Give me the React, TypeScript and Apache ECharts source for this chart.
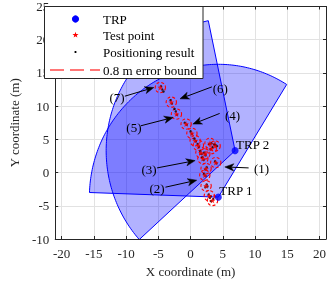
import React, { useEffect, useRef } from 'react';
import * as echarts from 'echarts';

// ---- data ----
const trpNames = ['TRP 1', 'TRP 2'];
const trpX = [4.3, 6.9];
const trpY = [-3.7, 3.3];
const sectorRadius = [20, 20];
const sectorStartDeg = [58, 102];
const sectorEndDeg = [178, 222];

const testX = [3.4, 2.9, 2.4, 2.2, 2.4, 3.9, 1.9, 1.6, 2.2, 3.2, 3.8, 3.0, 1.2, 0.7, 0.2, -0.7, -2.2, -3.0, -4.7];
const testY = [-4.2, -3.5, -2.0, -0.4, 0.6, 1.5, 2.1, 3.0, 2.8, 3.6, 4.0, 4.4, 4.1, 4.8, 5.9, 7.3, 8.8, 10.6, 12.8];

const posX = [3.5, 3.2, 3.0, 2.8, 3.1, 2.5, 2.3, 2.6, 2.1, 2.3, 2.5, 2.3, 3.8, 4.0, 1.8, 2.0, 1.5, 1.7, 2.3, 2.1, 3.1, 3.4, 3.7, 3.9, 4.1, 2.9, 3.2, 1.1, 1.3, 0.6, 0.8, 0.0, 0.2, -0.9, -0.6, -2.5, -2.3, -2.1, -3.1, -2.9, -4.6, -4.4, -4.2];
const posY = [-4.0, -4.3, -3.8, -3.3, -3.6, -1.8, -2.2, -2.1, -0.2, -0.5, 0.8, 0.5, 1.7, 1.4, 2.3, 1.9, 3.2, 2.8, 2.6, 3.0, 3.5, 3.8, 4.2, 4.1, 4.0, 4.3, 4.4, 4.3, 3.9, 5.1, 4.7, 6.2, 5.8, 7.5, 7.2, 9.6, 9.2, 8.7, 10.9, 10.4, 13.0, 12.5, 12.2];

const errorBound = 0.8;

const arrowLabels = ['(1)', '(2)', '(3)', '(4)', '(5)', '(6)', '(7)'];
const arrowTailX = [9.0, -3.9, -5.2, 4.5, -7.7, 3.3, -10.2];
const arrowTailY = [0.7, -2.2, 0.7, 8.9, 7.05, 12.9, 11.5];
const arrowTipX = [5.3, 0.95, 0.7, 0.35, -2.7, -1.65, -5.7];
const arrowTipY = [0.85, -1.15, 1.8, 7.3, 8.3, 11.1, 12.8];
const labelX = [11.0, -5.2, -6.45, 6.5, -8.8, 4.6, -11.4];
const labelY = [0.55, -2.4, 0.45, 8.6, 6.8, 12.6, 11.3];

const legendNames = ['TRP', 'Test point', 'Positioning result', '0.8 m error bound'];
const xTitle = 'X coordinate (m)';
const yTitle = 'Y coordinate (m)';

const FONT = 'Liberation Serif';
const AX = '#262626';

function starPoints(cx: number, cy: number, R: number, r: number) {
  const pts: number[][] = [];
  for (let i = 0; i < 10; i++) {
    const a = -Math.PI / 2 + (i * Math.PI) / 5;
    const rr = i % 2 === 0 ? R : r;
    pts.push([cx + rr * Math.cos(a), cy + rr * Math.sin(a)]);
  }
  return pts;
}

const STAR = 'path://M0,-10 L2.35,-3.24 L9.51,-3.09 L3.8,1.24 L5.88,8.09 L0,4 L-5.88,8.09 L-3.8,1.24 L-9.51,-3.09 L-2.35,-3.24 Z';

export default function App() {
  const ref = useRef<HTMLDivElement>(null);
  useEffect(() => {
    document.body.style.margin = '0';
    const chart = echarts.init(ref.current as HTMLDivElement, null, { renderer: 'svg' });

    const sectorData = trpX.map((x, i) => [x, trpY[i], sectorRadius[i], sectorStartDeg[i], sectorEndDeg[i]]);
    const testData = testX.map((x, i) => [x, testY[i]]);
    const posData = posX.map((x, i) => [x, posY[i]]);
    const trpData = trpX.map((x, i) => [x, trpY[i]]);
    const arrowData = arrowTailX.map((x, i) => [x, arrowTailY[i], arrowTipX[i], arrowTipY[i]]);
    const labelData = labelX.map((x, i) => [x, labelY[i]]);

    const xBase = {
      type: 'value', min: -21, max: 21, minInterval: 5, maxInterval: 5,
      axisLine: { show: true, onZero: false, lineStyle: { color: AX, width: 1 } },
      axisTick: { show: true, inside: true, length: 3, lineStyle: { color: AX } },
    };
    const yBase = {
      type: 'value', min: -10, max: 25, interval: 5,
      axisLine: { show: true, onZero: false, lineStyle: { color: AX, width: 1 } },
      axisTick: { show: true, inside: true, length: 3, lineStyle: { color: AX } },
    };

    const Z = 100;
    const legendChildren: any[] = [
      { type: 'rect', z: Z, shape: { x: 44.5, y: 6.5, width: 158.5, height: 72 }, style: { fill: '#ffffff', stroke: AX, lineWidth: 1 } },
      { type: 'circle', z: Z + 1, shape: { cx: 75.5, cy: 19, r: 3.6 }, style: { fill: '#0000ff' } },
      { type: 'polygon', z: Z + 1, shape: { points: starPoints(75.5, 35, 3.2, 1.3) }, style: { fill: '#ff0000' } },
      { type: 'circle', z: Z + 1, shape: { cx: 75.5, cy: 52, r: 1.1 }, style: { fill: '#000000' } },
      { type: 'line', z: Z + 1, shape: { x1: 50, y1: 70, x2: 100, y2: 70 }, style: { stroke: '#ff4a4a', lineWidth: 1.3, lineDash: [14, 6] } },
      ...legendNames.map((t, i) => ({
        type: 'text', z: Z + 1, x: 103, y: [19, 35, 52, 70][i],
        style: { text: t, font: `13px "${FONT}"`, fill: '#000', align: 'left', verticalAlign: 'middle' },
      })),
    ];

    const option: any = {
      animation: false,
      grid: { left: 44, right: 3, top: 6, bottom: 42, containLabel: false },
      xAxis: [
        {
          ...xBase, position: 'bottom',
          name: xTitle, nameLocation: 'middle', nameGap: 26,
          nameTextStyle: { fontFamily: FONT, fontSize: 13, color: AX },
          axisLabel: {
            formatter: (v: number) => (Math.abs(v % 5) < 1e-9 ? String(v) : ''),
            margin: 8, fontFamily: FONT, fontSize: 13, color: AX,
          },
          splitLine: { show: true, lineStyle: { color: '#e2e2e2', width: 1 } },
        },
        { ...xBase, position: 'top', axisLabel: { show: false }, splitLine: { show: false } },
      ],
      yAxis: [
        {
          ...yBase, position: 'left',
          name: yTitle, nameLocation: 'middle', nameGap: 34,
          nameTextStyle: { fontFamily: FONT, fontSize: 13, color: AX },
          axisLabel: { margin: 6, fontFamily: FONT, fontSize: 13, color: AX },
          splitLine: { show: true, lineStyle: { color: '#e2e2e2', width: 1 } },
        },
        { ...yBase, position: 'right', axisLabel: { show: false }, splitLine: { show: false } },
      ],
      series: [
        {
          type: 'custom', name: 'coverage', clip: true, z: 1,
          data: sectorData, encode: { x: 0, y: 1 },
          renderItem: (params: any, api: any) => {
            const cx = api.value(0), cy = api.value(1), r = api.value(2);
            const a0 = api.value(3), a1 = api.value(4);
            const pts: number[][] = [api.coord([cx, cy])];
            for (let a = a0; a <= a1 + 1e-9; a += 1) {
              const t = (a * Math.PI) / 180;
              pts.push(api.coord([cx + r * Math.cos(t), cy + r * Math.sin(t)]));
            }
            return {
              type: 'polygon', shape: { points: pts },
              style: { fill: 'rgba(0,0,255,0.3)', stroke: '#0000ff', lineWidth: 1 },
            };
          },
        },
        {
          type: 'custom', name: 'error bound', z: 3,
          data: testData, encode: { x: 0, y: 1 },
          renderItem: (params: any, api: any) => {
            const c = api.coord([api.value(0), api.value(1)]);
            const r = api.size([errorBound, 0])[0];
            return {
              type: 'circle', shape: { cx: c[0], cy: c[1], r },
              style: { fill: 'none', stroke: '#ff0000', lineWidth: 1.1, lineDash: [3, 2] },
            };
          },
        },
        {
          type: 'scatter', name: 'Positioning result', z: 4,
          data: posData, symbol: 'circle', symbolSize: 2.5,
          itemStyle: { color: '#000000' },
        },
        {
          type: 'scatter', name: 'Test point', z: 5,
          data: testData, symbol: STAR, symbolSize: 6,
          itemStyle: { color: '#ff0000' },
        },
        {
          type: 'scatter', name: 'TRP', z: 6,
          data: trpData, symbol: 'circle', symbolSize: 7,
          itemStyle: { color: '#0000ff' },
        },
        {
          type: 'custom', name: 'TRP labels', z: 7,
          data: trpData, encode: { x: 0, y: 1 },
          renderItem: (params: any, api: any) => {
            const c = api.coord([api.value(0), api.value(1)]);
            return {
              type: 'text', x: c[0] + 1, y: c[1] - 6.5,
              style: { text: trpNames[params.dataIndex], font: `13px "${FONT}"`, fill: '#000', align: 'left', verticalAlign: 'middle' },
            };
          },
        },
        {
          type: 'custom', name: 'arrows', z: 8,
          data: arrowData, encode: { x: [0, 2], y: [1, 3] },
          renderItem: (params: any, api: any) => {
            const p0 = api.coord([api.value(0), api.value(1)]);
            const p1 = api.coord([api.value(2), api.value(3)]);
            const dx = p1[0] - p0[0], dy = p1[1] - p0[1];
            const len = Math.sqrt(dx * dx + dy * dy) || 1;
            const ux = dx / len, uy = dy / len;
            const nx = -uy, ny = ux;
            const L = 9, W = 3.6, N = 6.5;
            const bx = p1[0] - ux * L, by = p1[1] - uy * L;
            const left = [bx + nx * W, by + ny * W];
            const right = [bx - nx * W, by - ny * W];
            const notch = [p1[0] - ux * N, p1[1] - uy * N];
            return {
              type: 'group',
              children: [
                { type: 'line', shape: { x1: p0[0], y1: p0[1], x2: notch[0], y2: notch[1] }, style: { stroke: '#000', lineWidth: 1 } },
                { type: 'polygon', shape: { points: [p1, left, notch, right] }, style: { fill: '#000', stroke: '#000', lineWidth: 0.5 } },
              ],
            };
          },
        },
        {
          type: 'custom', name: 'arrow labels', z: 9,
          data: labelData, encode: { x: 0, y: 1 },
          renderItem: (params: any, api: any) => {
            const c = api.coord([api.value(0), api.value(1)]);
            return {
              type: 'text', x: c[0], y: c[1],
              style: { text: arrowLabels[params.dataIndex], font: `13px "${FONT}"`, fill: '#000', align: 'center', verticalAlign: 'middle' },
            };
          },
        },
      ],
      graphic: legendChildren,
    };
    chart.setOption(option);
    return () => chart.dispose();
  }, []);
  return <div ref={ref} style={{ position: 'fixed', left: 0, top: 0, width: 329, height: 283 }} />;
}
